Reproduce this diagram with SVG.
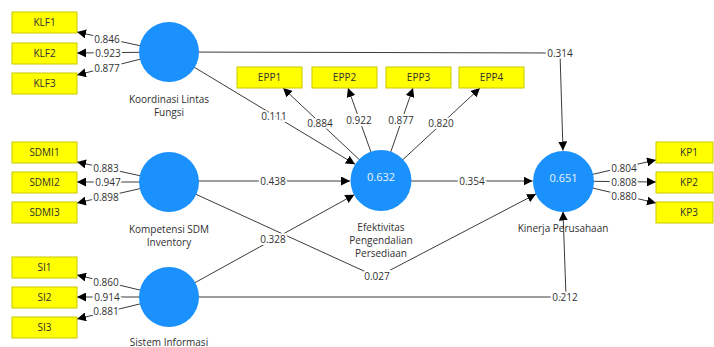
<svg xmlns="http://www.w3.org/2000/svg" width="714" height="347" viewBox="0 0 714 347">
<style>
.bg{fill:#ffffff}
.ln{fill:none;stroke:#3c3c3c;stroke-width:1}
.ar{marker-end:url(#ah)}
.box{fill:#ffff00;stroke:#c9c900;stroke-width:1}
.lv{fill:#1a91fc}
.t{font-family:"Open Sans","Noto Sans",sans-serif;font-size:10px;fill:#303030;text-anchor:middle}
.w{paint-order:stroke;stroke:#ffffff;stroke-width:4px;stroke-linejoin:round}
.v{font-family:"Open Sans","Noto Sans",sans-serif;font-size:11px;fill:#eaf3ff;text-anchor:middle}
</style>
<defs>
<marker id="ah" markerWidth="10" markerHeight="9" refX="9" refY="4.5" orient="auto" markerUnits="userSpaceOnUse">
<path d="M0,0 L9,4.5 L0,9 z" fill="#000000"/>
</marker>
</defs>
<rect class="bg" x="0" y="0" width="714" height="347"/>
<g id="connectors">
<line class="ln ar" x1="169" y1="52" x2="77" y2="32"/>
<line class="ln ar" x1="169" y1="52" x2="77" y2="53"/>
<line class="ln ar" x1="169" y1="52" x2="77" y2="75"/>
<line class="ln ar" x1="169" y1="182" x2="77" y2="162"/>
<line class="ln ar" x1="169" y1="182" x2="77" y2="182"/>
<line class="ln ar" x1="169" y1="182" x2="77" y2="203"/>
<line class="ln ar" x1="169" y1="297" x2="77" y2="275"/>
<line class="ln ar" x1="169" y1="297" x2="77" y2="297"/>
<line class="ln ar" x1="169" y1="297" x2="77" y2="319"/>
<line class="ln ar" x1="381" y1="180" x2="283" y2="88"/>
<line class="ln ar" x1="381" y1="180" x2="348" y2="88"/>
<line class="ln ar" x1="381" y1="180" x2="413" y2="88"/>
<line class="ln ar" x1="381" y1="180" x2="480" y2="88"/>
<line class="ln ar" x1="563" y1="181" x2="656" y2="160"/>
<line class="ln ar" x1="563" y1="181" x2="656" y2="182"/>
<line class="ln ar" x1="563" y1="181" x2="656" y2="203"/>
<line class="ln ar" x1="169" y1="52" x2="355" y2="164.2"/>
<line class="ln ar" x1="169" y1="181" x2="350" y2="181"/>
<line class="ln ar" x1="169" y1="297" x2="354.3" y2="194.7"/>
<line class="ln ar" x1="381" y1="181" x2="532.5" y2="181"/>
<polyline class="ln ar" points="169,52 560,53 563,150.5"/>
<polyline class="ln ar" points="169,297 566,297 563,211.5"/>
<polyline class="ln ar" points="169,182 377,277 536,194"/>
<g class="t w">
<text x="107" y="42.5">0.846</text>
<text x="108" y="56.5">0.923</text>
<text x="107" y="71.5">0.877</text>
<text x="106" y="171.5">0.883</text>
<text x="108" y="185.5">0.947</text>
<text x="106" y="200.5">0.898</text>
<text x="106" y="285.5">0.860</text>
<text x="107" y="300.5">0.914</text>
<text x="106" y="314.5">0.881</text>
<text x="320" y="126.5">0.884</text>
<text x="359" y="123.5">0.922</text>
<text x="401" y="123.5">0.877</text>
<text x="441" y="126.5">0.820</text>
<text x="624" y="171.5">0.804</text>
<text x="624" y="185.5">0.808</text>
<text x="624" y="199.5">0.880</text>
<text x="274" y="119.5">0.111</text>
<text x="273" y="184.5">0.438</text>
<text x="273" y="242.5">0.328</text>
<text x="472" y="184.5">0.354</text>
<text x="560" y="56.5">0.314</text>
<text x="565" y="300.5">0.212</text>
<text x="377" y="279.5">0.027</text>
</g>
</g>
<g id="KLF1"><rect class="box" x="12" y="12" width="65" height="21"/><text class="t" x="44.5" y="26">KLF1</text></g>
<g id="KLF2"><rect class="box" x="12" y="43" width="65" height="21"/><text class="t" x="44.5" y="57">KLF2</text></g>
<g id="KLF3"><rect class="box" x="12" y="73" width="65" height="21"/><text class="t" x="44.5" y="87">KLF3</text></g>
<g id="SDMI1"><rect class="box" x="12" y="142" width="65" height="21"/><text class="t" x="44.5" y="156">SDMI1</text></g>
<g id="SDMI2"><rect class="box" x="12" y="172" width="65" height="21"/><text class="t" x="44.5" y="186">SDMI2</text></g>
<g id="SDMI3"><rect class="box" x="12" y="202" width="65" height="21"/><text class="t" x="44.5" y="216">SDMI3</text></g>
<g id="SI1"><rect class="box" x="12" y="257" width="65" height="21"/><text class="t" x="44.5" y="271">SI1</text></g>
<g id="SI2"><rect class="box" x="12" y="287" width="65" height="21"/><text class="t" x="44.5" y="301">SI2</text></g>
<g id="SI3"><rect class="box" x="12" y="317" width="65" height="21"/><text class="t" x="44.5" y="331">SI3</text></g>
<g id="EPP1"><rect class="box" x="237" y="67" width="65" height="21"/><text class="t" x="269.5" y="81">EPP1</text></g>
<g id="EPP2"><rect class="box" x="312" y="67" width="65" height="21"/><text class="t" x="344.5" y="81">EPP2</text></g>
<g id="EPP3"><rect class="box" x="386" y="67" width="65" height="21"/><text class="t" x="418.5" y="81">EPP3</text></g>
<g id="EPP4"><rect class="box" x="459" y="67" width="65" height="21"/><text class="t" x="491.5" y="81">EPP4</text></g>
<g id="KP1"><rect class="box" x="656" y="142" width="57" height="21"/><text class="t" x="689" y="156">KP1</text></g>
<g id="KP2"><rect class="box" x="656" y="172" width="57" height="21"/><text class="t" x="689" y="186">KP2</text></g>
<g id="KP3"><rect class="box" x="656" y="202" width="57" height="21"/><text class="t" x="689" y="216">KP3</text></g>
<g id="KoordinasiLintasFungsi"><circle class="lv" cx="169" cy="52" r="30"/><text class="t" x="169" y="102.5">Koordinasi Lintas</text><text class="t" x="169" y="115.5">Fungsi</text></g>
<g id="KompetensiSDMInventory"><circle class="lv" cx="169" cy="182" r="30"/><text class="t" x="169" y="232.5">Kompetensi SDM</text><text class="t" x="169" y="245.5">Inventory</text></g>
<g id="SistemInformasi"><circle class="lv" cx="169" cy="297" r="30"/><text class="t" x="169" y="345.5">Sistem Informasi</text></g>
<g id="EfektivitasPengendalianPersediaan"><circle class="lv" cx="381" cy="180.5" r="30.5"/><text class="v" x="381" y="181">0.632</text><text class="t" x="381" y="230.5">Efektivitas</text><text class="t" x="381" y="243.5">Pengendalian</text><text class="t" x="381" y="256.5">Persediaan</text></g>
<g id="KinerjaPerusahaan"><circle class="lv" cx="563.5" cy="181.5" r="30.5"/><text class="v" x="563.5" y="182">0.651</text><text class="t" x="563" y="231.5">Kinerja Perusahaan</text></g>
</svg>
